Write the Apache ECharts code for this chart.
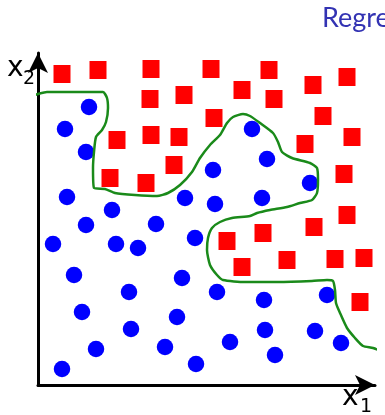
<!DOCTYPE html>
<html><head><meta charset="utf-8">
<script src="https://cdn.jsdelivr.net/npm/echarts@6/dist/echarts.min.js"></script>
<style>html,body{margin:0;padding:0;background:#fff;overflow:hidden}#c{width:385px;height:415px}</style>
</head><body><div id="c"></div>
<script>
// Class A (red squares)
const redX = [24, 60, 113, 173, 231, 275, 309, 112, 146, 204, 236, 176, 285, 314, 79, 113, 141, 267, 136, 72, 108, 306, 309, 276, 225, 189, 249, 297, 326, 204, 322];
const redY = [311, 315, 316, 316, 315, 300, 308, 286, 290, 295, 286, 267, 269, 248, 245, 250, 248, 241, 220, 207, 202, 211, 170, 158, 152, 144, 125, 126, 127, 118, 83];
// Class B (blue circles)
const blueX = [51, 27, 214, 48, 229, 175, 272, 29, 147, 177, 224, 74, 48, 118, 15, 78, 100, 157, 36, 144, 91, 179, 226, 289, 44, 139, 93, 227, 277, 58, 127, 192, 303, 237, 24, 158];
const blueY = [278, 256, 256, 233, 226, 215, 202, 188, 187, 181, 187, 175, 160, 161, 141, 141, 137, 147, 110, 107, 93, 93, 85, 90, 73, 68, 56, 55, 54, 36, 38, 43, 42, 30, 16, 21];
// Decision boundary (green curve)
const boundX = [-6, 0, 9, 37, 65, 69, 70, 68, 64, 58, 56, 55, 56, 67, 77, 97, 119, 130, 142, 154, 162, 172, 182, 189, 195, 205, 212, 222, 235, 240, 244, 254, 272, 279, 280, 279, 274, 262, 249, 232, 219, 212, 194, 182, 174, 170, 169, 172, 179, 185, 207, 240, 274, 289, 295, 297, 298, 302, 309, 317, 325, 335, 344, 347];
const boundY = [289, 291, 293, 293, 293, 287, 277, 263, 255, 248, 233, 217, 197, 196, 192, 190, 189, 192, 200, 213, 227, 240, 250, 262, 268, 271, 269, 262, 252, 243, 233, 227, 222, 217, 205, 192, 185, 182, 178, 175, 172, 169, 167, 163, 157, 147, 135, 120, 110, 105, 103, 103, 104, 105, 104, 95, 82, 72, 57, 47, 39, 37, 33, 30];
// Texts
const titleText = 'Regression';
const xName = ['x', '1'];
const yName = ['x', '2'];

const pairs = (xs, ys) => xs.map((x, i) => [x, ys[i]]);

const chart = echarts.init(document.getElementById('c'), null, {renderer: 'canvas'});
const axisCommon = {
  type: 'value',
  axisLine: {show: true, onZero: false, symbol: ['none', 'arrow'], symbolSize: [15, 20],
    lineStyle: {color: '#000', width: 3}},
  axisTick: {show: false}, axisLabel: {show: false}, splitLine: {show: false}
};
chart.setOption({
  animation: false,
  backgroundColor: '#fff',
  grid: {left: 38, right: 10, top: 53, bottom: 30, containLabel: false},
  xAxis: Object.assign({min: 0, max: 337}, axisCommon),
  yAxis: Object.assign({min: 0, max: 332}, axisCommon),
  graphic: [
    {type: 'text', left: 322, top: 5, style: {text: titleText, font: '27px Lato', fill: '#3333b3'}},
    {type: 'text', x: 7, y: 69, style: {text: yName[0], font: '500 28px "DejaVu Sans"', fill: '#000', verticalAlign: 'middle'}},
    {type: 'text', x: 23, y: 79, style: {text: yName[1], font: '19px "DejaVu Sans"', fill: '#000', verticalAlign: 'middle'}},
    {type: 'text', x: 342, y: 398, style: {text: xName[0], font: '500 28px "DejaVu Sans"', fill: '#000', verticalAlign: 'middle'}},
    {type: 'text', x: 360, y: 407, style: {text: xName[1], font: '19px "DejaVu Sans"', fill: '#000', verticalAlign: 'middle'}}
  ],
  series: [
    {type: 'scatter', data: pairs(redX, redY), symbol: 'rect', symbolSize: [17, 18],
      itemStyle: {color: '#ff0000', opacity: 1}, clip: false, silent: true},
    {type: 'scatter', data: pairs(blueX, blueY), symbol: 'circle', symbolSize: 16.5,
      itemStyle: {color: '#0000ff', opacity: 1}, clip: false, silent: true},
    {type: 'line', data: pairs(boundX, boundY), showSymbol: false, smooth: 0.2, clip: false,
      lineStyle: {color: '#1a8a1a', width: 2.5}, z: 5, silent: true}
  ]
});
</script>
</body></html>
